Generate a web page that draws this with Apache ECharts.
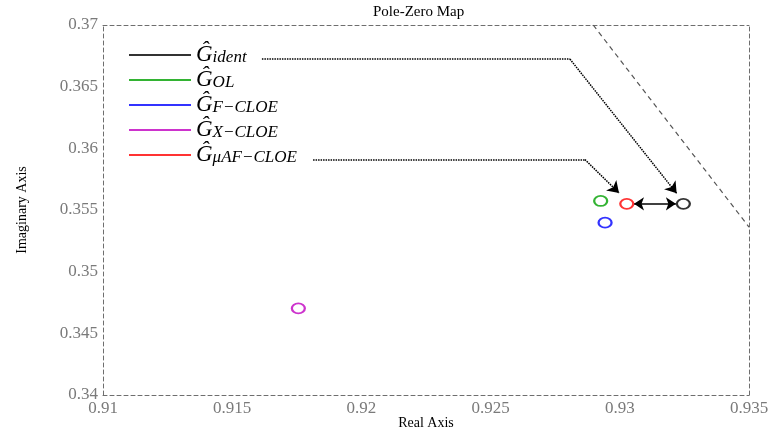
<!DOCTYPE html>
<html>
<head>
<meta charset="utf-8">
<title>Pole-Zero Map</title>
<script src="https://cdn.jsdelivr.net/npm/echarts@6/dist/echarts.min.js"></script>
<style>
  html, body { margin: 0; padding: 0; background: #fff; }
  #chart { width: 771px; height: 434px; }
</style>
</head>
<body>
<div id="chart"></div>
<script>
// Poles of the identified and estimated models (real, imaginary parts)
const modelNames = ['ident', 'OL', 'F-CLOE', 'X-CLOE', 'μAF-CLOE'];
const modelSubs  = ['ident', 'OL', 'F\u2212CLOE', 'X\u2212CLOE', 'μAF\u2212CLOE'];
const modelColors = ['#000000', '#00a000', '#0000ff', '#c000c0', '#ff0000'];
const poleReal = [0.93246, 0.92926, 0.92943, 0.91756, 0.93027];
const poleImag = [0.35550, 0.35573, 0.35397, 0.34703, 0.35550];

// Axis ranges and ticks
const xTicks = [0.91, 0.915, 0.92, 0.925, 0.93, 0.935];
const yTicks = [0.34, 0.345, 0.35, 0.355, 0.36, 0.365, 0.37];

// Stability boundary (unit circle arc) crossing the view
const boundaryReal = [0.92897, 0.935];
const boundaryImag = [0.37, 0.35362];

// Annotation paths: dotted leaders from the legend labels to the poles
const leaderFlat = [
  [[0.91615, 0.36724], [0.92807, 0.36724]],
  [[0.91813, 0.35909], [0.92865, 0.35909]]
];
const leaderArrow = [
  [[0.92807, 0.36724], [0.93220, 0.35635]],
  [[0.92865, 0.35909], [0.92997, 0.35638]]
];
// Double-headed arrow between the two highlighted poles
const gapArrow = [[[0.93055, 0.3555], [0.93217, 0.3555]]];

const SERIF = 'Liberation Serif';
const GRID = { left: 103, right: 22, top: 25, bottom: 39, outerBoundsMode: 'none', containLabel: false };
const dashAxis = { show: true, onZero: false, lineStyle: { color: '#6e6e6e', width: 1, type: [4, 3] } };

const chart = echarts.init(document.getElementById('chart'), null, { renderer: 'canvas' });

const scatterSeries = modelNames.map((n, i) => ({
  name: n,
  type: 'scatter',
  xAxisIndex: 0,
  yAxisIndex: 0,
  symbol: 'circle',
  symbolSize: [13, 10],
  itemStyle: { color: '#ffffff', borderColor: modelColors[i], borderWidth: 2 },
  data: [[poleReal[i], poleImag[i]]],
  silent: true,
  z: 5
}));

const option = {
  animation: false,
  backgroundColor: '#ffffff',
  title: {
    text: 'Pole-Zero Map',
    left: 373,
    top: 5,
    padding: 0,
    textStyle: { fontFamily: SERIF, fontSize: 15, fontWeight: 'normal', color: '#000' }
  },
  grid: GRID,
  legend: {
    orient: 'vertical',
    left: 129,
    top: 43,
    padding: 0,
    itemWidth: 62,
    itemHeight: 2,
    itemGap: 2,
    icon: 'rect',
    selectedMode: false,
    data: modelNames.map((n, i) => ({ name: n, itemStyle: { color: modelColors[i], borderWidth: 0 } })),
    formatter: name => '{g|Ĝ}{s|' + modelSubs[modelNames.indexOf(name)] + '}',
    textStyle: {
      rich: {
        g: { fontFamily: SERIF, fontStyle: 'italic', fontSize: 23, lineHeight: 22, color: '#000', verticalAlign: 'bottom' },
        s: { fontFamily: SERIF, fontStyle: 'italic', fontSize: 17, lineHeight: 15, color: '#000', verticalAlign: 'bottom' }
      }
    }
  },
  xAxis: [{
    type: 'value', min: xTicks[0], max: xTicks[xTicks.length - 1], interval: 0.005,
    position: 'bottom',
    axisLine: dashAxis, axisTick: { show: false }, splitLine: { show: false },
    axisLabel: { color: '#7a7a7a', fontFamily: SERIF, fontSize: 17, margin: 5,
      formatter: v => String(parseFloat(v.toFixed(4))) },
    name: 'Real Axis', nameLocation: 'middle', nameGap: 21, nameMoveOverlap: false,
    nameTextStyle: { color: '#000', fontFamily: SERIF, fontSize: 14 }
  }, {
    type: 'value', min: xTicks[0], max: xTicks[xTicks.length - 1], interval: 0.005,
    position: 'top',
    axisLine: dashAxis, axisTick: { show: false }, axisLabel: { show: false }, splitLine: { show: false }
  }],
  yAxis: [{
    type: 'value', min: yTicks[0], max: yTicks[yTicks.length - 1], interval: 0.005,
    position: 'left',
    axisLine: dashAxis, axisTick: { show: false }, splitLine: { show: false },
    axisLabel: { color: '#7a7a7a', fontFamily: SERIF, fontSize: 17, margin: 5, padding: [0, 0, 8, 0],
      formatter: v => String(parseFloat(v.toFixed(4))) },
    name: 'Imaginary Axis', nameLocation: 'middle', nameGap: 74, nameMoveOverlap: false,
    nameTextStyle: { color: '#000', fontFamily: SERIF, fontSize: 14 }
  }, {
    type: 'value', min: yTicks[0], max: yTicks[yTicks.length - 1], interval: 0.005,
    position: 'right',
    axisLine: dashAxis, axisTick: { show: false }, axisLabel: { show: false }, splitLine: { show: false }
  }],
  series: [
    {
      name: 'boundary',
      type: 'line',
      data: boundaryReal.map((x, i) => [x, boundaryImag[i]]),
      showSymbol: false,
      symbol: 'none',
      lineStyle: { color: '#555555', width: 1.2, type: [5, 4] },
      silent: true,
      z: 1
    },
    {
      name: 'leaderFlat',
      type: 'lines',
      coordinateSystem: 'cartesian2d',
      symbol: 'none',
      lineStyle: { color: '#000', width: 1.5, type: [1.5, 1], opacity: 1 },
      data: leaderFlat.map(c => ({ coords: c })),
      silent: true,
      z: 3
    },
    {
      name: 'leaderArrow',
      type: 'lines',
      coordinateSystem: 'cartesian2d',
      symbol: ['none', 'arrow'],
      symbolSize: 11,
      lineStyle: { color: '#000', width: 1.5, type: [1.5, 1], opacity: 1 },
      data: leaderArrow.map(c => ({ coords: c })),
      silent: true,
      z: 3
    },
    {
      name: 'gapArrow',
      type: 'lines',
      coordinateSystem: 'cartesian2d',
      symbol: ['arrow', 'arrow'],
      symbolSize: 10,
      lineStyle: { color: '#000', width: 1.5, type: 'solid', opacity: 1 },
      data: gapArrow.map(c => ({ coords: c })),
      silent: true,
      z: 3
    }
  ].concat(scatterSeries)
};

chart.setOption(option);
</script>
</body>
</html>
